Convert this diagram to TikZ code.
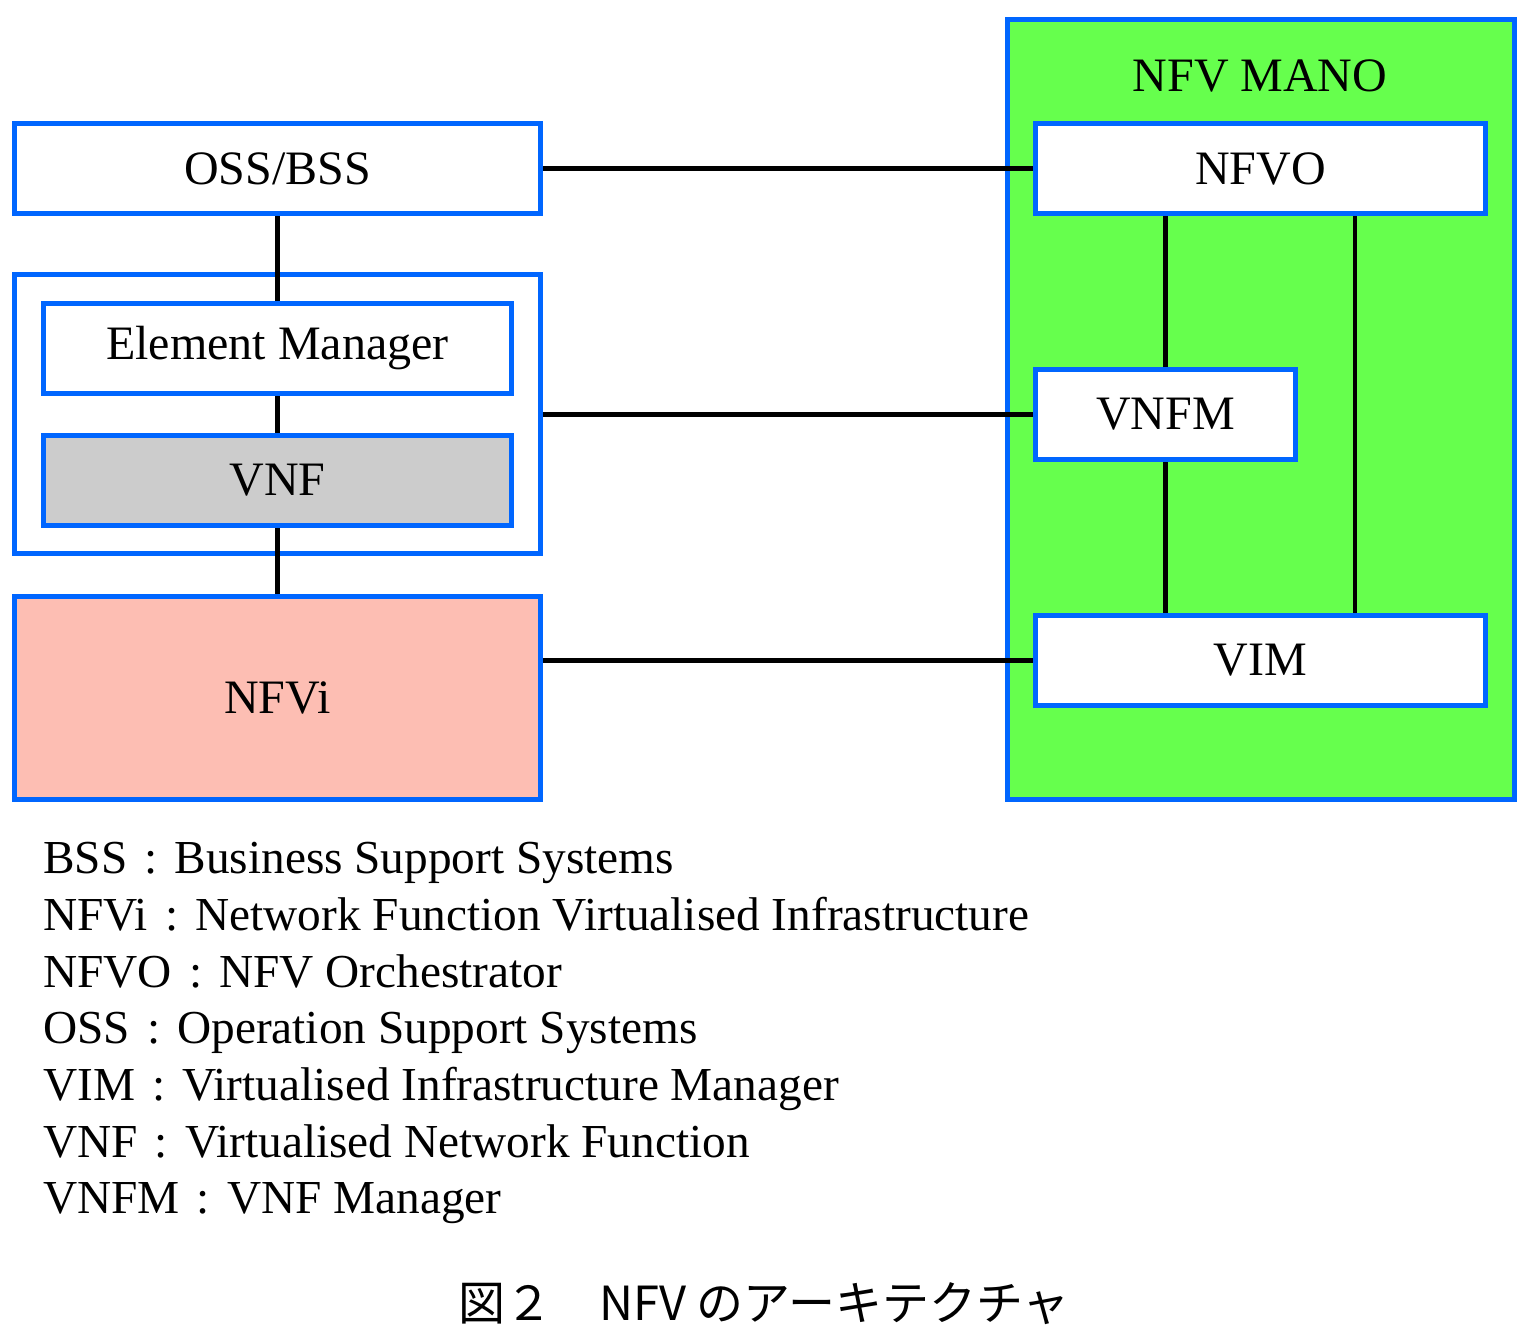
\documentclass[tikz,border=0pt]{standalone}
\usepackage{fontspec}
\setmainfont{Liberation Serif}
\newfontfamily\cjk{Noto Sans CJK JP}
\definecolor{bord}{HTML}{0066FF}
\definecolor{manogreen}{HTML}{66FF4D}
\definecolor{vnfgray}{HTML}{CCCCCC}
\definecolor{nfvipink}{HTML}{FDBEB3}
\newcommand{\fwcolon}{\hbox to 1em{\hss:\hss}}
\pgfdeclarelayer{bg}
\pgfdeclarelayer{conn}
\pgfsetlayers{bg,conn,main}
\begin{document}
\begin{tikzpicture}[x=1pt,y=-1pt,
  box/.style={draw=bord, line width=5pt, fill=white, inner sep=0pt,
    font=\fontsize{48}{56}\selectfont},
  conn/.style={draw=black, line width=4.5pt},
  legend/.style={anchor=base west, inner sep=0pt, font=\fontsize{47.3}{56}\selectfont}]
\useasboundingbox (0,0) rectangle (1533,1340);
\begin{pgfonlayer}{bg}
\node[box, minimum width=526pt, minimum height=279pt] (cont) at (277.5,414) {};
\node[box, fill=manogreen, minimum width=507pt, minimum height=780pt] (mano) at (1261,409.5) {};
\end{pgfonlayer}
\node[anchor=base, inner sep=0pt, font=\fontsize{48}{56}\selectfont] (manot) at (1260,92) {NFV MANO};
\node[box, minimum width=526pt, minimum height=90pt] (oss) at (277.5,168.5) {OSS/BSS};
\node[box, minimum width=468pt, minimum height=90pt] (em) at (277.5,348.5) {Element Manager};
\node[box, fill=vnfgray, minimum width=468pt, minimum height=90pt] (vnf) at (277.5,480.5) {VNF};
\node[box, fill=nfvipink, minimum width=526pt, minimum height=203pt] (nfvi) at (277.5,698) {NFVi};
\node[box, minimum width=450pt, minimum height=90pt] (nfvo) at (1260.5,168.5) {NFVO};
\node[box, minimum width=260pt, minimum height=90pt] (vnfm) at (1165.5,414.5) {VNFM};
\node[box, minimum width=450pt, minimum height=90pt] (vim) at (1260.5,660.5) {VIM};
\begin{pgfonlayer}{conn}
\draw[conn] (oss.east) -- (nfvo.west);
\draw[conn] (vnfm.west -| cont.east) -- (vnfm.west);
\draw[conn] (vim.west -| nfvi.east) -- (vim.west);
\draw[conn] (oss.south) -- (em.north);
\draw[conn] (em.south) -- (vnf.north);
\draw[conn] (vnf.south) -- (nfvi.north);
\draw[conn] (vnfm.north |- nfvo.south) -- (vnfm.north);
\draw[conn] (vnfm.south) -- (vnfm.south |- vim.north);
\coordinate (r1) at (1355,0);
\draw[conn] (r1 |- nfvo.south) -- (r1 |- vim.north);
\end{pgfonlayer}
\node[legend] (l1) at (43,873) {BSS\fwcolon Business Support Systems};
\node[legend] (l2) at (43,930) {NFVi\fwcolon Network Function Virtualised Infrastructure};
\node[legend] (l3) at (43,987) {NFVO\fwcolon NFV Orchestrator};
\node[legend] (l4) at (43,1043) {OSS\fwcolon Operation Support Systems};
\node[legend] (l5) at (43,1100) {VIM\fwcolon Virtualised Infrastructure Manager};
\node[legend] (l6) at (43,1157) {VNF\fwcolon Virtualised Network Function};
\node[legend] (l7) at (43,1213) {VNFM\fwcolon VNF Manager};
\node[anchor=base, inner sep=0pt, font=\cjk\fontsize{47}{53}\selectfont] (cap) at (764,1320) {図２　NFV のアーキテクチャ};
\end{tikzpicture}
\end{document}
